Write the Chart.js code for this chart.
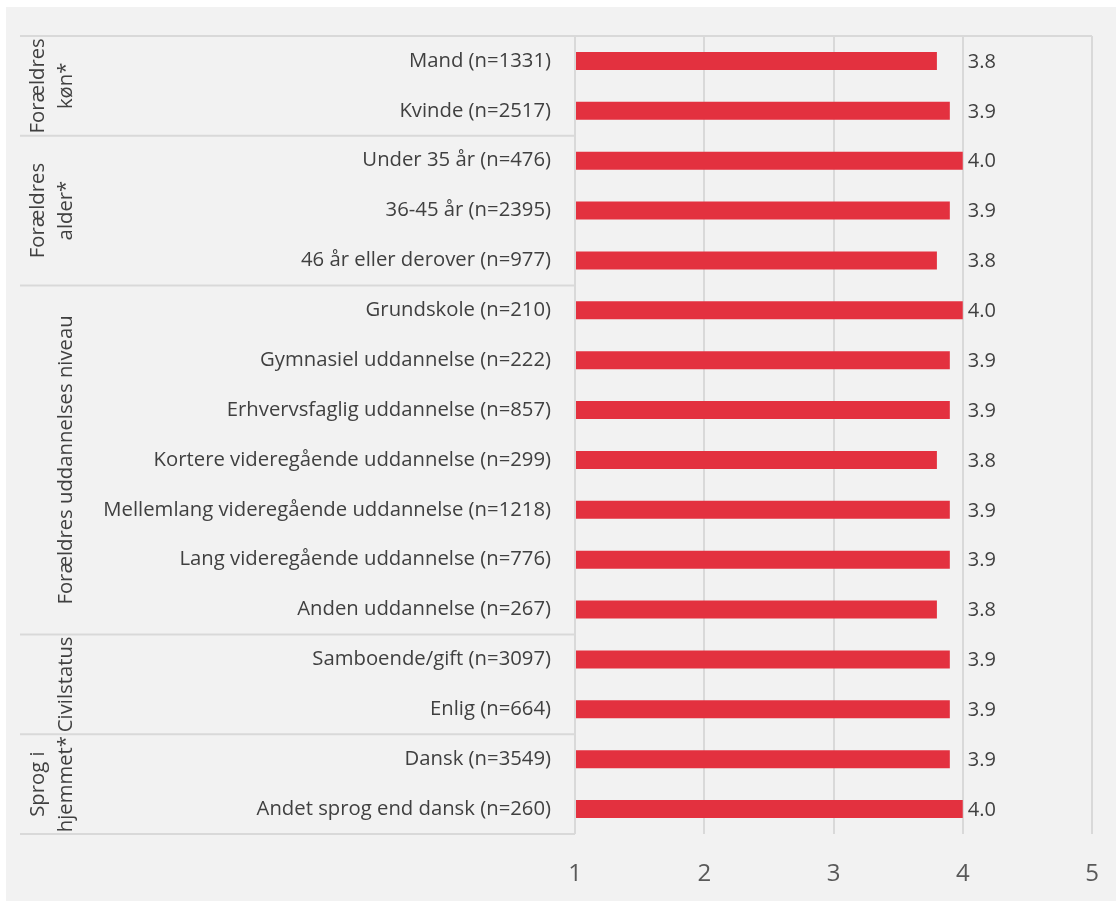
<!DOCTYPE html>
<html>
<head>
<meta charset="utf-8">
<script src="https://cdn.jsdelivr.net/npm/chart.js@4.4.1/dist/chart.umd.min.js"></script>
<style>
  html, body { margin: 0; padding: 0; background: #ffffff; }
  #wrap { position: absolute; left: 6px; top: 7px; width: 1110px; height: 894px; background: #F2F2F2; }
  canvas { display: block; }
</style>
</head>
<body>
<div id="wrap"><canvas id="c" width="1110" height="894"></canvas></div>
<script>
const categories = [
  'Mand (n=1331)',
  'Kvinde (n=2517)',
  'Under 35 år (n=476)',
  '36-45 år (n=2395)',
  '46 år eller derover (n=977)',
  'Grundskole (n=210)',
  'Gymnasiel uddannelse (n=222)',
  'Erhvervsfaglig uddannelse (n=857)',
  'Kortere videregående uddannelse (n=299)',
  'Mellemlang videregående uddannelse (n=1218)',
  'Lang videregående uddannelse (n=776)',
  'Anden uddannelse (n=267)',
  'Samboende/gift (n=3097)',
  'Enlig (n=664)',
  'Dansk (n=3549)',
  'Andet sprog end dansk (n=260)'
];
const values = [3.8, 3.9, 4.0, 3.9, 3.8, 4.0, 3.9, 3.9, 3.8, 3.9, 3.9, 3.8, 3.9, 3.9, 3.9, 4.0];
const groupLabels = [['Forældres', 'køn*'], ['Forældres', 'alder*'], ['Forældres uddannelses niveau'], ['Civilstatus'], ['Sprog i', 'hjemmet*']];
const groupSizes = [2, 3, 7, 2, 2];
const xTicks = [1, 2, 3, 4, 5];

const FONT = "'Open Sans', 'Noto Sans', sans-serif";
const TEXT = '#404040';
const GRID = '#D9D9D9';

const groupPlugin = {
  id: 'groups',
  afterDraw(chart) {
    const ctx = chart.ctx;
    const y = chart.scales.y;
    const x = chart.scales.x;
    const area = chart.chartArea;
    const half = (y.getPixelForValue(1) - y.getPixelForValue(0)) / 2;
    const leftX = 14;
    ctx.save();
    ctx.strokeStyle = GRID;
    ctx.lineWidth = 2;
    ctx.beginPath();
    ctx.moveTo(leftX, area.top);
    ctx.lineTo(area.right, area.top);
    ctx.stroke();
    let idx = 0;
    groupSizes.forEach((size, g) => {
      const top = y.getPixelForValue(idx) - half;
      const bottom = y.getPixelForValue(idx + size - 1) + half;
      ctx.strokeStyle = GRID;
      ctx.beginPath();
      ctx.moveTo(leftX, bottom);
      ctx.lineTo(area.left, bottom);
      ctx.stroke();
      const lines = groupLabels[g];
      const cy = (top + bottom) / 2;
      const lastX = 60;
      const lh = 28;
      ctx.fillStyle = TEXT;
      ctx.font = '20.3px ' + FONT;
      ctx.textAlign = 'center';
      ctx.textBaseline = 'middle';
      lines.forEach((ln, i) => {
        const px = lastX - (lines.length - 1 - i) * lh;
        ctx.save();
        ctx.translate(px, cy);
        ctx.rotate(-Math.PI / 2);
        ctx.fillText(ln, 0, 0);
        ctx.restore();
      });
      idx += size;
    });
    ctx.fillStyle = TEXT;
    ctx.font = '20px ' + FONT;
    ctx.textAlign = 'left';
    ctx.textBaseline = 'middle';
    const lx = x.getPixelForValue(4) + 5;
    values.forEach((v, i) => {
      ctx.fillText(v.toFixed(1), lx, y.getPixelForValue(i) + 1);
    });
    ctx.restore();
  }
};

new Chart(document.getElementById('c'), {
  type: 'bar',
  data: {
    labels: categories,
    datasets: [{
      data: values,
      backgroundColor: '#E3313F',
      borderWidth: 0,
      barPercentage: 0.36,
      categoryPercentage: 1.0,
      base: 1
    }]
  },
  options: {
    indexAxis: 'y',
    responsive: false,
    animation: false,
    layout: { padding: { left: 0, right: 24, top: 29, bottom: 0 } },
    plugins: { legend: { display: false }, tooltip: { enabled: false } },
    scales: {
      x: {
        min: 1,
        max: 5,
        afterBuildTicks(scale) { scale.ticks = xTicks.map(v => ({ value: v })); },
        afterFit(scale) { scale.height = 67; scale.paddingLeft = 0; scale.paddingRight = 0; },
        grid: { color: GRID, lineWidth: 2, drawTicks: false },
        border: { display: false },
        ticks: { color: '#595959', font: { family: FONT, size: 24 }, padding: 26 }
      },
      y: {
        afterFit(scale) { scale.width = 569; scale.paddingTop = 0; scale.paddingBottom = 0; },
        grid: { display: false },
        border: { display: false },
        ticks: { color: TEXT, font: { family: FONT, size: 20.3 }, padding: 16 }
      }
    }
  },
  plugins: [groupPlugin]
});
</script>
</body>
</html>
